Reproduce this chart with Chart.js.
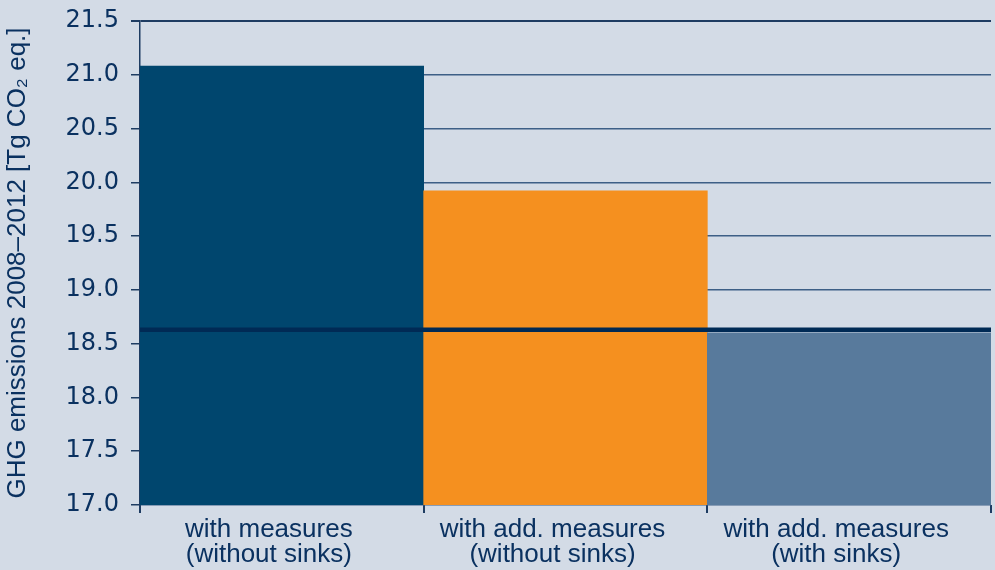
<!DOCTYPE html>
<html>
<head>
<meta charset="utf-8">
<script src="https://cdn.jsdelivr.net/npm/chart.js@4.4.0/dist/chart.umd.min.js"></script>
<style>
  html, body { margin: 0; padding: 0; background: #d3dbe6; }
  #wrap { width: 995px; height: 570px; position: relative; }
</style>
</head>
<body>
<div id="wrap"><canvas id="grafico"></canvas></div>
<script>
// categorias y valores
var categorias = [
  ["with measures", "(without sinks)"],
  ["with add. measures", "(without sinks)"],
  ["with add. measures", "(with sinks)"]
];
var emisiones = [21.08, 19.92, 18.60];
var coloresBarras = ["#00466e", "#f5901f", "#587a9c"];
// linea horizontal (objetivo) a lo ancho de todo el grafico
var objetivo = 18.63;
var tramoObjetivo = [0, 3];
var ejeMin = 17.0, ejeMax = 21.5, ejePaso = 0.5;

var colorTexto = "#0a3160";
var colorGrid = "#3d5f86";
var colorBorde = "#1e3c62";

var ctx = document.getElementById("grafico").getContext("2d");

var grafico = new Chart(ctx, {
  type: "bar",
  data: {
    labels: categorias,
    datasets: [
      {
        type: "line",
        label: "target",
        xAxisID: "xLinea",
        data: tramoObjetivo.map(function (x) { return { x: x, y: objetivo }; }),
        borderColor: "#002a55",
        borderWidth: 4.5,
        pointRadius: 0,
        fill: false,
        clip: 0,
        order: 0
      },
      {
        label: "emissions",
        data: emisiones,
        backgroundColor: coloresBarras,
        borderWidth: 0,
        grouped: false,
        barPercentage: 1.0,
        categoryPercentage: 1.0,
        order: 1
      }
    ]
  },
  options: {
    responsive: true,
    maintainAspectRatio: false,
    animation: false,
    layout: { padding: { top: 16, right: 4, left: 0, bottom: 0 } },
    plugins: {
      legend: { display: false },
      tooltip: { enabled: false }
    },
    scales: {
      x: {
        offset: true,
        grid: {
          offset: true,
          drawOnChartArea: true,
          color: function (c) { return c.index === 3 ? colorBorde : "rgba(0,0,0,0)"; },
          tickColor: colorBorde,
          tickLength: 8,
          lineWidth: 2
        },
        border: { display: false },
        ticks: {
          color: colorTexto,
          padding: 4,
          labelOffset: -13,
          maxRotation: 0,
          autoSkip: false,
          font: { family: "Liberation Sans", size: 26, lineHeight: 0.98 }
        },
        afterFit: function (scale) { scale.height = 65; }
      },
      xLinea: {
        type: "linear",
        display: false,
        offset: false,
        min: 0,
        max: 3
      },
      y: {
        min: ejeMin,
        max: ejeMax,
        grid: {
          color: function (c) { return c.tick && c.tick.value === ejeMax ? colorBorde : colorGrid; },
          lineWidth: function (c) { return c.tick && c.tick.value === ejeMax ? 2 : 1.5; },
          tickColor: colorBorde,
          tickLength: 9
        },
        border: { display: true, color: colorBorde, width: 1.5 },
        ticks: {
          stepSize: ejePaso,
          color: colorTexto,
          padding: 12,
          font: { family: "DejaVu Sans", size: 24, lineHeight: 0.75 },
          callback: function (v) { return Number(v).toFixed(1); }
        },
        title: {
          display: true,
          text: "GHG emissions 2008\u20132012 [Tg CO\u2082 eq.]",
          color: colorTexto,
          font: { family: "Liberation Sans", size: 26 },
          padding: { top: 2, bottom: 0 }
        },
        afterFit: function (scale) { scale.width = 140; }
      }
    }
  }
});
</script>
</body>
</html>
